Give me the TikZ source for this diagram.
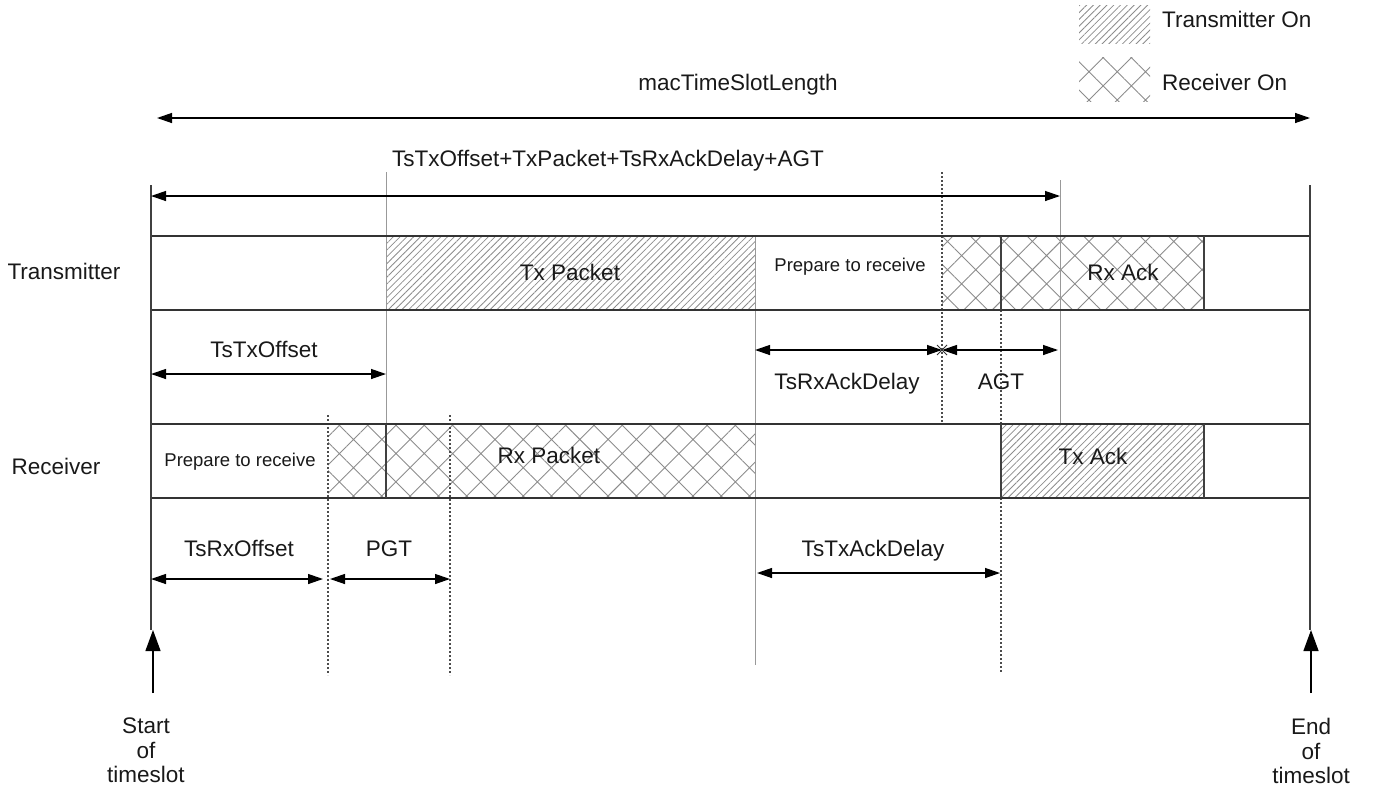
\documentclass[tikz,border=0pt]{standalone}
\usepackage{fontspec}
\setmainfont{Liberation Sans}
\usetikzlibrary{arrows.meta,patterns.meta,calc}
\begin{document}
\begin{tikzpicture}[x=1pt,y=-1pt,
  >={Triangle[length=15pt,width=10pt]},
  bigtip/.style={-{Triangle[length=21pt,width=15pt]}},
  txfill/.style={pattern={Lines[angle=45,distance=4.8pt,line width=0.8pt]},pattern color=black!45},
  rxfill/.style={pattern={Hatch[angle=45,distance=20pt,line width=0.9pt]},pattern color=black!45},
  band/.style={draw=black!80,line width=1.3pt},
  edge/.style={draw=black!75,line width=1.4pt},
  guide/.style={draw=black!40,line width=1pt},
  dotguide/.style={draw=black!70,line width=1.2pt,dash pattern=on 2pt off 2pt},
  dim/.style={draw=black,line width=1.3pt,<->},
  lbl/.style={font=\fontsize{22.5}{24.5}\selectfont,text=black!90,inner sep=0pt,anchor=base},
  small/.style={font=\fontsize{18.5}{22}\selectfont,text=black!90,inner sep=0pt,anchor=base},
]
\useasboundingbox (0,0) rectangle (1380,793);

% legend
\fill[txfill] (1079,5) rectangle (1150,43);
\fill[rxfill] (1079,57) rectangle (1150,101);
\node[lbl,anchor=base west] (legtx) at (1162,27) {Transmitter On};
\node[lbl,anchor=base west] (legrx) at (1162,90) {Receiver On};

% patterned blocks
\fill[txfill] (386,236) rectangle (755,310);
\fill[rxfill] (942,236) rectangle (1204,310);
\fill[rxfill] (328,424) rectangle (755,498);
\fill[txfill] (1001,424) rectangle (1204,498);

% guide lines
\coordinate (g386t) at (386,172); \coordinate (g386b) at (386,424);
\coordinate (g755t) at (755,236); \coordinate (g755b) at (755,665);
\coordinate (g942t) at (942,172); \coordinate (g942b) at (942,424);
\coordinate (g1060t) at (1060,180); \coordinate (g1060b) at (1060,424);
\coordinate (g1001t) at (1001,310); \coordinate (g1001b) at (1001,672);
\coordinate (g328t) at (328,415); \coordinate (g328b) at (328,675);
\coordinate (g450t) at (450,415); \coordinate (g450b) at (450,675);
\draw[guide] (g386t) -- (g386b);
\draw[guide] (g755t) -- (g755b);
\draw[guide] (g1060t) -- (g1060b);
\draw[dotguide] (g942t) -- (g942b);
\draw[dotguide] (g1001t) -- (g1001b);
\draw[dotguide] (g328t) -- (g328b);
\draw[dotguide] (g450t) -- (g450b);

% bands
\coordinate (t1l) at (151,236); \coordinate (t1r) at (1310,236);
\coordinate (t2l) at (151,310); \coordinate (t2r) at (1310,310);
\coordinate (r1l) at (151,424); \coordinate (r1r) at (1310,424);
\coordinate (r2l) at (151,498); \coordinate (r2r) at (1310,498);
\draw[band] (t1l) -- (t1r);
\draw[band] (t2l) -- (t2r);
\draw[band] (r1l) -- (r1r);
\draw[band] (r2l) -- (r2r);

% block edges
\draw[edge] (1001,236) -- (1001,310);
\draw[edge] (1204,236) -- (1204,310);
\draw[edge] (386,424) -- (386,498);
\draw[edge] (1001,424) -- (1001,498);
\draw[edge] (1204,424) -- (1204,498);

% timeslot boundaries
\coordinate (sl) at (151,185); \coordinate (slb) at (151,630);
\coordinate (el) at (1310,185); \coordinate (elb) at (1310,630);
\draw[edge] (sl) -- (slb);
\draw[edge] (el) -- (elb);
\coordinate (sa0) at (153,693); \coordinate (sa1) at (153,630);
\coordinate (ea0) at (1311,693); \coordinate (ea1) at (1311,630);
\draw[draw=black,line width=1.3pt,bigtip] (sa0) -- (sa1);
\draw[draw=black,line width=1.3pt,bigtip] (ea0) -- (ea1);

% dimension arrows
\coordinate (m0) at (157,118); \coordinate (m1) at (1310,118);
\draw[dim] (m0) -- (m1);
\coordinate (s0) at (151,196); \coordinate (s1) at (1060,196);
\draw[dim] (s0) -- (s1);
\coordinate (o0) at (151,374); \coordinate (o1) at (386,374);
\draw[dim] (o0) -- (o1);
\coordinate (d0) at (755,350); \coordinate (d1) at (942,350); \coordinate (d2) at (1058,350);
\draw[dim] (d0) -- (d1);
\draw[dim] (d1) -- (d2);
\draw[black!80,line width=1pt] ($(d1)+(-5,-5)$) -- ($(d1)+(5,5)$) ($(d1)+(-5,5)$) -- ($(d1)+(5,-5)$);
\coordinate (p0) at (151,579); \coordinate (p1) at (323,579);
\coordinate (p2) at (330,579); \coordinate (p3) at (450,579);
\draw[dim] (p0) -- (p1);
\draw[dim] (p2) -- (p3);
\coordinate (a0) at (757,573); \coordinate (a1) at (1000,573);
\draw[dim] (a0) -- (a1);

% labels
\node[lbl] (mac) at (738,90) {macTimeSlotLength};
\node[lbl] (sum) at (608,166) {TsTxOffset+TxPacket+TsRxAckDelay+AGT};
\node[lbl] (tx) at (64,279) {Transmitter};
\node[lbl] (rx) at (56,474) {Receiver};
\node[lbl] (txp) at (570,280) {Tx Packet};
\node[small] (prep1) at (850,271) {Prepare to receive};
\node[lbl] (rxack) at (1123,280) {Rx Ack};
\node[lbl] (tso) at (264,357) {TsTxOffset};
\node[lbl] (rad) at (847,389) {TsRxAckDelay};
\node[lbl] (agt) at (1001,389) {AGT};
\node[small] (prep2) at (240,466) {Prepare to receive};
\node[lbl] (rxp) at (549,463) {Rx Packet};
\node[lbl] (txack) at (1093,464) {Tx Ack};
\node[lbl] (rxo) at (239,556) {TsRxOffset};
\node[lbl] (pgt) at (389,556) {PGT};
\node[lbl] (tad) at (873,556) {TsTxAckDelay};
\node[lbl,align=center,anchor=north] (start) at (146,718) {Start\\of\\timeslot};
\node[lbl,align=center,anchor=north] (end) at (1311,718) {End\\of\\timeslot};
\end{tikzpicture}
\end{document}
